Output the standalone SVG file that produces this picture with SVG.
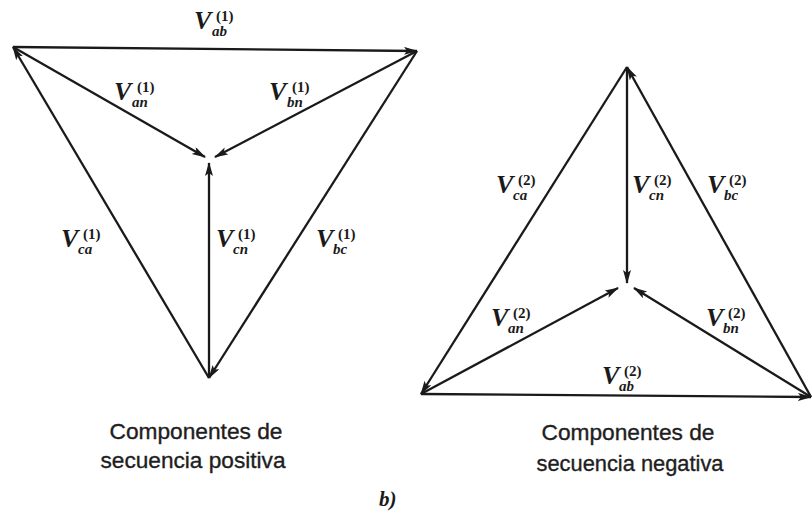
<svg xmlns="http://www.w3.org/2000/svg" width="812" height="521" viewBox="0 0 812 521">
<style>
  .vec { stroke:#1a1a1a; stroke-width:2.3; fill:none; marker-end:url(#ah); }
  .lbl { font-family:"Liberation Serif","Times New Roman",serif; font-style:italic; font-weight:bold; font-size:26px; fill:#1a1a1a; }
  .sup { font-style:normal; font-size:15px; }
  .sub { font-size:15px; }
  .cap { font-family:"Liberation Sans",Arial,sans-serif; font-size:22px; fill:#1e1e1e; stroke:#1e1e1e; stroke-width:0.35; text-anchor:middle; }
  .fig { font-family:"Liberation Serif","Times New Roman",serif; font-style:italic; font-weight:bold; font-size:21px; fill:#1a1a1a; }
</style>
<defs>
  <marker id="ah" markerUnits="userSpaceOnUse" markerWidth="16" markerHeight="10" refX="13" refY="4" orient="auto">
    <path d="M0,0 L14,4 L0,8 L3,4 z" fill="#1a1a1a"/>
  </marker>
</defs>
<rect width="812" height="521" fill="#ffffff"/>

<g id="connectors">
  <!-- positive sequence -->
  <line id="e-ab1" class="vec" x1="13" y1="47" x2="417" y2="51"/>
  <line id="e-an1" class="vec" x1="13" y1="47" x2="205" y2="157"/>
  <line id="e-bn1" class="vec" x1="417" y1="51" x2="215" y2="157"/>
  <line id="e-cn1" class="vec" x1="209" y1="378" x2="209" y2="163"/>
  <line id="e-ca1" class="vec" x1="209" y1="378" x2="13" y2="47"/>
  <line id="e-bc1" class="vec" x1="417" y1="51" x2="209" y2="378"/>
  <!-- negative sequence -->
  <line id="e-ab2" class="vec" x1="421" y1="394" x2="811" y2="397"/>
  <line id="e-an2" class="vec" x1="421" y1="394" x2="618" y2="288"/>
  <line id="e-bn2" class="vec" x1="811" y1="397" x2="634" y2="288"/>
  <line id="e-cn2" class="vec" x1="627" y1="67" x2="627" y2="283"/>
  <line id="e-ca2" class="vec" x1="627" y1="67" x2="421" y2="394"/>
  <line id="e-bc2" class="vec" x1="811" y1="397" x2="627" y2="67"/>
</g>

<g id="label-vab1"><text class="lbl" x="194" y="29">V<tspan class="sup" x="216" y="21">(1)</tspan><tspan class="sub" x="212" y="36">ab</tspan></text></g>
<g id="label-van1"><text class="lbl" x="114" y="100">V<tspan class="sup" x="137" y="92">(1)</tspan><tspan class="sub" x="132" y="107">an</tspan></text></g>
<g id="label-vbn1"><text class="lbl" x="269" y="100">V<tspan class="sup" x="292" y="92">(1)</tspan><tspan class="sub" x="287" y="107">bn</tspan></text></g>
<g id="label-vca1"><text class="lbl" x="61" y="247">V<tspan class="sup" x="83" y="239">(1)</tspan><tspan class="sub" x="78" y="254">ca</tspan></text></g>
<g id="label-vcn1"><text class="lbl" x="216" y="247">V<tspan class="sup" x="238" y="239">(1)</tspan><tspan class="sub" x="233" y="254">cn</tspan></text></g>
<g id="label-vbc1"><text class="lbl" x="316" y="247">V<tspan class="sup" x="338" y="239">(1)</tspan><tspan class="sub" x="333" y="254">bc</tspan></text></g>

<g id="label-vca2"><text class="lbl" x="496" y="193">V<tspan class="sup" x="518" y="185">(2)</tspan><tspan class="sub" x="513" y="200">ca</tspan></text></g>
<g id="label-vcn2"><text class="lbl" x="632" y="193">V<tspan class="sup" x="654" y="185">(2)</tspan><tspan class="sub" x="649" y="200">cn</tspan></text></g>
<g id="label-vbc2"><text class="lbl" x="707" y="193">V<tspan class="sup" x="729" y="185">(2)</tspan><tspan class="sub" x="724" y="200">bc</tspan></text></g>
<g id="label-van2"><text class="lbl" x="491" y="326">V<tspan class="sup" x="513" y="318">(2)</tspan><tspan class="sub" x="508" y="333">an</tspan></text></g>
<g id="label-vbn2"><text class="lbl" x="706" y="326">V<tspan class="sup" x="728" y="318">(2)</tspan><tspan class="sub" x="723" y="333">bn</tspan></text></g>
<g id="label-vab2"><text class="lbl" x="602" y="384">V<tspan class="sup" x="624" y="376">(2)</tspan><tspan class="sub" x="619" y="391">ab</tspan></text></g>

<g id="caption-positive">
  <text class="cap" x="196" y="439" textLength="173" lengthAdjust="spacingAndGlyphs">Componentes de</text>
  <text class="cap" x="193" y="468" textLength="185" lengthAdjust="spacingAndGlyphs">secuencia positiva</text>
</g>
<g id="caption-negative">
  <text class="cap" x="628" y="440" textLength="173" lengthAdjust="spacingAndGlyphs">Componentes de</text>
  <text class="cap" x="630" y="471" textLength="187" lengthAdjust="spacingAndGlyphs">secuencia negativa</text>
</g>
<g id="figure-label"><text class="fig" x="379" y="506">b)</text></g>
</svg>
